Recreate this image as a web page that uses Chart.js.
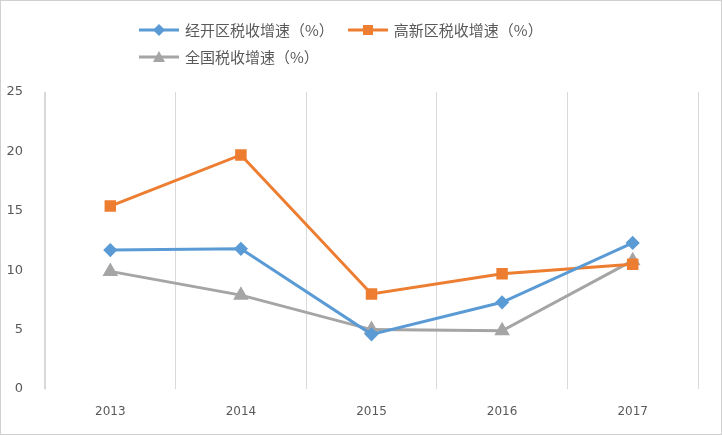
<!DOCTYPE html>
<html>
<head>
<meta charset="utf-8">
<script src="https://cdn.jsdelivr.net/npm/chart.js@4"></script>
<style>
  body { margin: 0; background: #fff; }
  #wrap { position: relative; width: 722px; height: 435px; box-sizing: border-box; border: 1px solid #d0d0d0; }
  #legend { position: absolute; left: 0; top: 15px; width: 722px; font-family: "Noto Sans CJK SC", sans-serif; font-size: 15px; color: #595959; }
  .row { display: flex; justify-content: flex-start; padding-left: 136px; height: 27px; align-items: center; }
  .item { display: flex; align-items: center; margin-right: 12px; }
  .item canvas { margin-right: 4px; }
</style>
</head>
<body>
<div id="wrap">
  <canvas id="c" width="720" height="433"></canvas>
  <div id="legend"></div>
</div>
<script>
(function() {
    'use strict';

    const years = ['2013', '2014', '2015', '2016', '2017'];
    const jingkai = [11.7, 11.8, 4.6, 7.3, 12.3];
    const gaoxin = [15.4, 19.7, 8.0, 9.7, 10.5];
    const quanguo = [9.9, 7.9, 5.0, 4.9, 10.8];

    const series = [
        { label: '经开区税收增速（%）', data: jingkai, color: '#5b9bd5', point: 'rectRot', r: 5 },
        { label: '高新区税收增速（%）', data: gaoxin, color: '#ed7d31', point: 'rect', r: 6 },
        { label: '全国税收增速（%）', data: quanguo, color: '#a5a5a5', point: 'triangle', r: 6 }
    ];

    function legendItem(s) {
        var item = document.createElement('div');
        item.className = 'item';
        var cv = document.createElement('canvas');
        cv.width = 44; cv.height = 16;
        var g = cv.getContext('2d');
        g.strokeStyle = s.color; g.lineWidth = 3;
        g.beginPath(); g.moveTo(2, 8); g.lineTo(42, 8); g.stroke();
        g.fillStyle = s.color;
        if (s.point === 'rectRot') {
            g.beginPath(); g.moveTo(22, 2); g.lineTo(28, 8); g.lineTo(22, 14); g.lineTo(16, 8); g.fill();
        } else if (s.point === 'rect') {
            g.fillRect(17, 3, 10, 10);
        } else {
            g.beginPath(); g.moveTo(22, 2); g.lineTo(28, 13); g.lineTo(16, 13); g.fill();
        }
        item.appendChild(cv);
        var t = document.createElement('span');
        t.textContent = s.label;
        item.appendChild(t);
        return item;
    }

    var legend = document.getElementById('legend');
    var r1 = document.createElement('div'); r1.className = 'row';
    r1.appendChild(legendItem(series[0])); r1.appendChild(legendItem(series[1]));
    var r2 = document.createElement('div'); r2.className = 'row';
    r2.appendChild(legendItem(series[2]));
    legend.appendChild(r1); legend.appendChild(r2);

    new Chart(document.getElementById('c'), {
        type: 'line',
        data: {
            labels: years,
            datasets: series.map(function(s) {
                return {
                    label: s.label, data: s.data,
                    borderColor: s.color, backgroundColor: s.color,
                    borderWidth: 3, pointStyle: s.point, pointRadius: s.r,
                    tension: 0
                };
            })
        },
        options: {
            responsive: false,
            animation: false,
            layout: { padding: { top: 91, right: 23, left: 0, bottom: 0 } },
            plugins: { legend: { display: false }, tooltip: { enabled: false } },
            scales: {
                x: {
                    offset: true,
                    grid: { display: true, offset: true, color: '#d9d9d9', drawTicks: false },
                    border: { display: false },
                    ticks: { color: '#595959', font: { family: 'DejaVu Sans', size: 12 }, padding: 16 },
                    afterFit: function(a) { a.height = 45; }
                },
                y: {
                    min: 0, max: 25,
                    grid: { display: false },
                    border: { display: true, color: '#d9d9d9' },
                    ticks: { stepSize: 5, color: '#595959', font: { family: 'DejaVu Sans', size: 13 }, padding: 14 },
                    afterFit: function(a) { a.width = 44; }
                }
            }
        }
    });
})();
</script>
</body>
</html>
